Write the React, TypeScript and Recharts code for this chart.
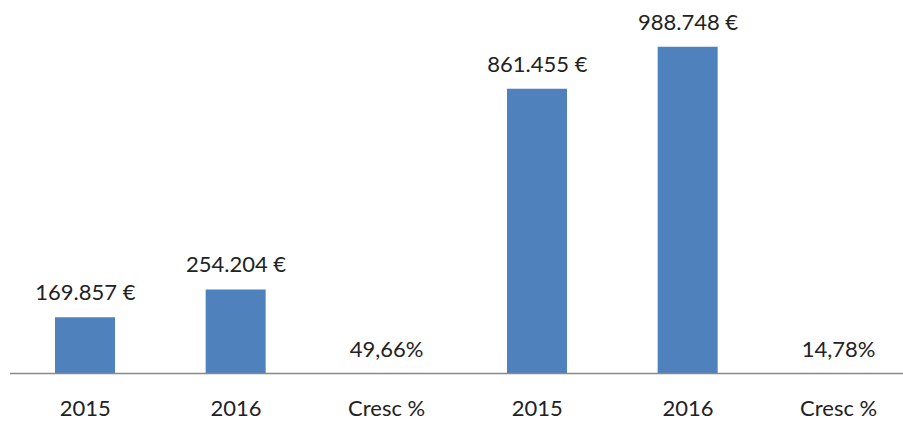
import React from 'react';
import { ComposedChart, Bar, Line, XAxis, YAxis, LabelList } from 'recharts';

const categories = ['2015', '2016', 'Cresc %', '2015', '2016', 'Cresc %'];
const amounts = [169857, 254204, 0, 861455, 988748, 0];
const growth = [null, null, 49.66, null, null, 14.78];

const euro = (v: number) => String(v).replace(/\B(?=(\d{3})+(?!\d))/g, '.') + ' €';
const pct = (v: number) => v.toFixed(2).replace('.', ',') + '%';

const data = categories.map((name, i) => ({
    name,
    value: amounts[i],
    label: growth[i] != null ? pct(growth[i] as number) : euro(amounts[i]),
}));

const font = 'Lato, "Open Sans", sans-serif';

// labels hang off an invisible line so the zero-height "Cresc %" bars get one too
const TopLabel = (props: any) => {
    const { x, y, value } = props;
    return (
        <text x={Number(x)} y={Number(y) - 17} textAnchor="middle" fill="#222" fontSize={22} fontFamily={font}>
            {value}
        </text>
    );
};

export default function App() {
    return (
        <div style={{ position: 'fixed', top: 0, left: 0, width: 903, height: 422, overflow: 'hidden', background: '#fff' }}>
            <ComposedChart width={914} height={422} data={data} margin={{ top: 43, right: 0, bottom: 0, left: 10 }}>
                <XAxis
                    dataKey="name"
                    height={48.5}
                    tickLine={false}
                    tickSize={0}
                    tickMargin={27}
                    axisLine={{ stroke: '#898989', strokeWidth: 1.5 }}
                    tick={{ fill: '#222', fontSize: 22, fontFamily: font }}
                    interval={0}
                />
                <YAxis hide domain={[0, 1000000]} />
                <Bar dataKey="value" fill="#4F81BD" barSize={60} isAnimationActive={false} />
                <Line dataKey="value" stroke="none" dot={false} activeDot={false} isAnimationActive={false}>
                    <LabelList dataKey="label" content={TopLabel} />
                </Line>
            </ComposedChart>
        </div>
    );
}
